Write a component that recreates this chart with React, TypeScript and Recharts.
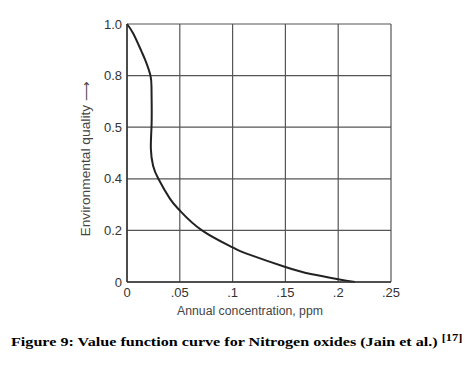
import { LineChart, Line, XAxis, YAxis, CartesianGrid } from "recharts"

// curve (annual NOx concentration in ppm -> environmental quality)
const concentration = [
  0, 0.0059, 0.0135, 0.0177, 0.0222, 0.0232, 0.0234, 0.0232, 0.0226, 0.0247, 0.0297, 0.0406, 0.05,
  0.071, 0.1, 0.1126, 0.15, 0.174, 0.2, 0.2158,
]
const quality = [
  1.0, 0.963, 0.896, 0.856, 0.8, 0.753, 0.68, 0.6, 0.516, 0.451, 0.4, 0.323, 0.277,
  0.2, 0.134, 0.111, 0.058, 0.031, 0.011, 0,
]

const xTicks = [0, 0.05, 0.1, 0.15, 0.2, 0.25]
const xTickLabels = ["0", ".05", ".1", ".15", ".2", ".25"]
const yTicks = [0, 0.2, 0.4, 0.6, 0.8, 1]
// the printed figure labels the 0.6 line as "0.5"
const yTickLabels = ["0", "0.2", "0.4", "0.5", "0.8", "1.0"]

const data = concentration.map((c, i) => ({ c, q: quality[i] }))

const sans = "'Liberation Sans', Arial, sans-serif"
const tickStyle = { fontSize: 13, fill: "#333", fontFamily: sans }

export default function App() {
  return (
    <div style={{ position: "absolute", left: 0, top: 0, width: 468, height: 370, background: "#fff" }}>
      <LineChart width={468} height={370} data={data} margin={{ top: 24, right: 77, bottom: 58, left: 87 }}>
        <CartesianGrid stroke="#555" strokeWidth={1.2} />
        <XAxis
          dataKey="c"
          type="number"
          domain={[0, 0.25]}
          ticks={xTicks}
          tickFormatter={(v: number) => xTickLabels[xTicks.indexOf(v)] ?? String(v)}
          tick={tickStyle}
          tickLine={false}
          tickSize={0}
          tickMargin={6}
          height={30}
          axisLine={{ stroke: "#333", strokeWidth: 1.5 }}
          label={{
            content: () => (
              <text x={250} y={315} textAnchor="middle" fontSize={12} fill="#444" fontFamily={sans}
                textLength={146} lengthAdjust="spacingAndGlyphs">
                Annual concentration, ppm
              </text>
            ),
          }}
        />
        <YAxis
          type="number"
          domain={[0, 1]}
          ticks={yTicks}
          tickFormatter={(v: number) => yTickLabels[yTicks.indexOf(v)] ?? String(v)}
          tick={tickStyle}
          tickLine={false}
          tickSize={0}
          tickMargin={5}
          width={40}
          axisLine={{ stroke: "#333", strokeWidth: 1.5 }}
          label={{
            content: () => (
              <text x={90} y={159} textAnchor="middle" fontSize={12} fill="#444" fontFamily={sans}
                textLength={155} lengthAdjust="spacingAndGlyphs" transform="rotate(-90 90 159)">
                Environmental quality ⟶
              </text>
            ),
          }}
        />
        <Line type="natural" dataKey="q" stroke="#222" strokeWidth={2} dot={false} isAnimationActive={false} />
      </LineChart>
      <div
        style={{
          position: "absolute",
          left: 11,
          top: 330,
          fontFamily: "'Liberation Serif', 'Times New Roman', serif",
          fontWeight: "bold",
          fontSize: 13,
          lineHeight: "15px",
          whiteSpace: "nowrap",
          color: "#000",
          transform: "scaleX(1.24)",
          transformOrigin: "left top",
        }}
      >
        Figure 9: Value function curve for Nitrogen oxides (Jain et al.) <sup style={{ fontSize: 10 }}>[17]</sup>
      </div>
    </div>
  )
}
